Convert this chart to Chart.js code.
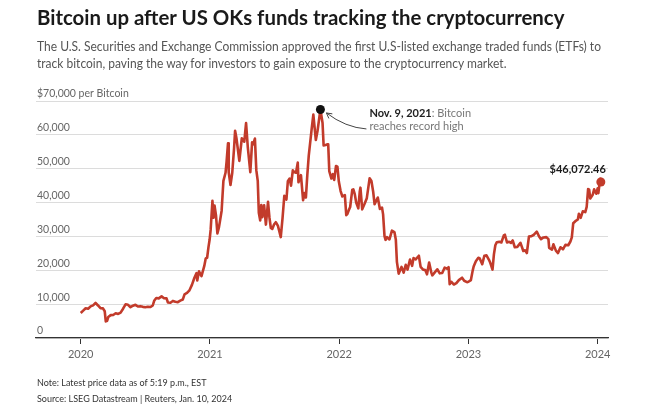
<!DOCTYPE html>
<html>
<head>
<meta charset="utf-8">
<script src="https://cdn.jsdelivr.net/npm/chart.js@4.4.1/dist/chart.umd.min.js"></script>
<style>
  body { margin: 0; width: 650px; height: 406px; background: #fff; overflow: hidden; position: relative; font-family: Lato, "Open Sans", sans-serif; }
  #chart { position: absolute; left: 0; top: 0; }
  .title { position: absolute; left: 37px; top: 5px; font-weight: 700; font-size: 20.4px; color: #1a1a1a; white-space: nowrap; }
  .subtitle { position: absolute; left: 37px; top: 38px; font-size: 13px; line-height: 17px; color: #555; white-space: nowrap; transform: scaleX(0.925); transform-origin: left top; }
  .notes { position: absolute; left: 37px; top: 374px; font-size: 10px; line-height: 16px; color: #333; white-space: nowrap; transform: scaleX(0.9); transform-origin: left top; }
</style>
</head>
<body>
<canvas id="chart" width="650" height="406"></canvas>
<div class="title">Bitcoin up after US OKs funds tracking the cryptocurrency</div>
<div class="subtitle">The U.S. Securities and Exchange Commission approved the first U.S-listed exchange traded funds (ETFs) to<br>track bitcoin, paving the way for investors to gain exposure to the cryptocurrency market.</div>
<div class="notes">Note: Latest price data as of 5:19 p.m., EST<br>Source: LSEG Datastream | Reuters, Jan. 10, 2024</div>
<script>
// bitcoin price, USD, [date, value]
const prices2020 = [
  ['2020-01-01', 7400], ['2020-01-08', 8100], ['2020-01-15', 8800], ['2020-01-22', 8650], ['2020-01-29', 9350],
  ['2020-02-05', 9650], ['2020-02-12', 10350], ['2020-02-19', 9600], ['2020-02-26', 8800], ['2020-03-04', 8750],
  ['2020-03-09', 7900], ['2020-03-12', 4900], ['2020-03-16', 5100], ['2020-03-19', 6200], ['2020-03-26', 6750],
  ['2020-04-02', 6800], ['2020-04-09', 7300], ['2020-04-16', 7100], ['2020-04-23', 7500], ['2020-04-30', 8650],
  ['2020-05-07', 9950], ['2020-05-14', 9800], ['2020-05-21', 9100], ['2020-05-28', 9550], ['2020-06-04', 9800],
  ['2020-06-11', 9300], ['2020-06-18', 9400], ['2020-06-25', 9200], ['2020-07-02', 9100], ['2020-07-09', 9250],
  ['2020-07-16', 9150], ['2020-07-23', 9600], ['2020-07-27', 11000], ['2020-08-02', 11800], ['2020-08-09', 11700],
  ['2020-08-17', 12300], ['2020-08-24', 11750], ['2020-08-31', 11700], ['2020-09-04', 10500], ['2020-09-11', 10400],
  ['2020-09-18', 10950], ['2020-09-25', 10700], ['2020-10-02', 10600], ['2020-10-09', 11050], ['2020-10-16', 11350],
  ['2020-10-21', 12900], ['2020-10-28', 13300], ['2020-11-04', 14100], ['2020-11-11', 15700], ['2020-11-18', 17800],
  ['2020-11-24', 19150], ['2020-11-26', 17000], ['2020-12-01', 19700], ['2020-12-08', 18300], ['2020-12-16', 21300],
  ['2020-12-20', 23500], ['2020-12-24', 23700], ['2020-12-28', 27000], ['2020-12-31', 29000]
];
const prices2021 = [
  ['2021-01-03', 32000], ['2021-01-08', 40500], ['2021-01-11', 35500], ['2021-01-14', 39100], ['2021-01-18', 36300],
  ['2021-01-22', 30900], ['2021-01-26', 32500], ['2021-01-29', 34300], ['2021-02-03', 37600], ['2021-02-08', 46400],
  ['2021-02-14', 48800], ['2021-02-17', 52100], ['2021-02-21', 57500], ['2021-02-23', 48900], ['2021-02-28', 45200],
  ['2021-03-05', 48800], ['2021-03-10', 55900], ['2021-03-13', 61200], ['2021-03-17', 58900], ['2021-03-25', 52300],
  ['2021-04-01', 59000], ['2021-04-08', 58000], ['2021-04-13', 63500], ['2021-04-18', 56200], ['2021-04-25', 49000],
  ['2021-04-30', 57800], ['2021-05-03', 57200], ['2021-05-08', 58900], ['2021-05-12', 49500], ['2021-05-16', 46400],
  ['2021-05-19', 37000], ['2021-05-23', 34700], ['2021-05-26', 39300], ['2021-05-29', 35700], ['2021-06-03', 39200],
  ['2021-06-08', 33500], ['2021-06-14', 40200], ['2021-06-18', 35600], ['2021-06-22', 32500], ['2021-06-26', 32200],
  ['2021-07-01', 33500], ['2021-07-06', 34200], ['2021-07-12', 33100], ['2021-07-16', 31500], ['2021-07-20', 29800],
  ['2021-07-25', 35400], ['2021-07-30', 42000], ['2021-08-05', 40900], ['2021-08-09', 46300], ['2021-08-14', 47100],
  ['2021-08-18', 45000], ['2021-08-23', 49500], ['2021-08-27', 49000], ['2021-09-01', 48800], ['2021-09-06', 51800],
  ['2021-09-08', 46000], ['2021-09-15', 48100], ['2021-09-21', 40700], ['2021-09-25', 42800], ['2021-09-29', 41500],
  ['2021-10-03', 48200], ['2021-10-07', 53800], ['2021-10-15', 61500], ['2021-10-20', 66000], ['2021-10-27', 58500],
  ['2021-11-01', 61300], ['2021-11-09', 67500], ['2021-11-15', 63500], ['2021-11-18', 56900], ['2021-11-24', 57000],
  ['2021-11-28', 57200], ['2021-12-01', 57200], ['2021-12-04', 49300], ['2021-12-10', 47100], ['2021-12-14', 48400],
  ['2021-12-18', 46700], ['2021-12-23', 50800], ['2021-12-27', 50600], ['2021-12-31', 46200]
];
const prices2022 = [
  ['2022-01-05', 43400], ['2022-01-10', 41800], ['2022-01-17', 42200], ['2022-01-21', 36300], ['2022-01-24', 36600],
  ['2022-01-28', 37700], ['2022-02-01', 38700], ['2022-02-07', 43800], ['2022-02-10', 43900], ['2022-02-14', 42500],
  ['2022-02-18', 40000], ['2022-02-24', 38300], ['2022-02-28', 43200], ['2022-03-02', 44400], ['2022-03-07', 38000],
  ['2022-03-14', 39700], ['2022-03-20', 41300], ['2022-03-28', 47200], ['2022-04-02', 46400], ['2022-04-07', 43200],
  ['2022-04-11', 39500], ['2022-04-20', 41500], ['2022-04-26', 38100], ['2022-05-02', 38500], ['2022-05-05', 36500],
  ['2022-05-09', 30100], ['2022-05-12', 29000], ['2022-05-16', 29800], ['2022-05-23', 29100], ['2022-05-30', 31700],
  ['2022-06-06', 31300], ['2022-06-10', 29000], ['2022-06-13', 22500], ['2022-06-18', 19000], ['2022-06-22', 20000],
  ['2022-06-26', 21000], ['2022-07-02', 19300], ['2022-07-08', 21600], ['2022-07-13', 20200], ['2022-07-20', 23200],
  ['2022-07-26', 21300], ['2022-07-30', 23600], ['2022-08-05', 23200], ['2022-08-14', 24300], ['2022-08-19', 21000],
  ['2022-08-26', 20200], ['2022-09-01', 20100], ['2022-09-06', 18800], ['2022-09-12', 22300], ['2022-09-18', 19400],
  ['2022-09-21', 18500], ['2022-09-28', 19400], ['2022-10-05', 20300], ['2022-10-12', 19100], ['2022-10-19', 19200],
  ['2022-10-26', 20800], ['2022-11-01', 20500], ['2022-11-06', 20900], ['2022-11-09', 15900], ['2022-11-14', 16600],
  ['2022-11-21', 15800], ['2022-11-28', 16200], ['2022-12-05', 17100], ['2022-12-14', 17800], ['2022-12-20', 16900],
  ['2022-12-28', 16500]
];
const prices2023 = [
  ['2023-01-01', 16600], ['2023-01-08', 17100], ['2023-01-13', 19900], ['2023-01-16', 21200], ['2023-01-22', 22700],
  ['2023-01-29', 23700], ['2023-02-02', 23500], ['2023-02-09', 21800], ['2023-02-15', 24300], ['2023-02-21', 24400],
  ['2023-02-28', 23100], ['2023-03-03', 22400], ['2023-03-10', 20200], ['2023-03-14', 24700], ['2023-03-18', 27400],
  ['2023-03-22', 28300], ['2023-03-29', 28400], ['2023-04-04', 28200], ['2023-04-11', 30300], ['2023-04-14', 30500],
  ['2023-04-20', 28200], ['2023-04-26', 28400], ['2023-05-01', 28100], ['2023-05-06', 28800], ['2023-05-12', 26800],
  ['2023-05-19', 26900], ['2023-05-28', 28100], ['2023-06-05', 25700], ['2023-06-10', 25900], ['2023-06-15', 25100],
  ['2023-06-21', 30000], ['2023-06-28', 30100], ['2023-07-05', 30500], ['2023-07-13', 31400], ['2023-07-20', 29900],
  ['2023-07-25', 29200], ['2023-08-01', 29700], ['2023-08-09', 29800], ['2023-08-15', 29200], ['2023-08-17', 26600],
  ['2023-08-25', 26100], ['2023-08-29', 27700], ['2023-09-05', 25800], ['2023-09-11', 25100], ['2023-09-18', 26800],
  ['2023-09-25', 26200], ['2023-10-02', 27500], ['2023-10-10', 27400], ['2023-10-16', 28500], ['2023-10-20', 29700],
  ['2023-10-24', 33900], ['2023-10-30', 34500], ['2023-11-06', 35000], ['2023-11-09', 36700], ['2023-11-14', 35500],
  ['2023-11-20', 37400], ['2023-11-27', 37200], ['2023-12-01', 38700], ['2023-12-05', 44000], ['2023-12-08', 43800],
  ['2023-12-11', 41200], ['2023-12-18', 42300], ['2023-12-22', 43900], ['2023-12-28', 42600],
  ['2024-01-01', 44200], ['2024-01-03', 42800], ['2024-01-08', 47000], ['2024-01-10', 46072.46]
];

const yearTicks = [2020, 2021, 2022, 2023, 2024];
const yTicks = [0, 10000, 20000, 30000, 40000, 50000, 60000, 70000];
const yTopLabel = '$70,000 per Bitcoin';
const peakLabelBold = 'Nov. 9, 2021';
const peakLabelRest = ': Bitcoin';
const peakLabelLine2 = 'reaches record high';
const lastLabel = '$46,072.46';

const red = '#c23b2b';

// date string -> fractional year, so a plain linear axis can be used
function toYear(s) {
  const d = new Date(s + 'T00:00:00Z');
  const y = d.getUTCFullYear();
  const start = Date.UTC(y, 0, 1), end = Date.UTC(y + 1, 0, 1);
  return y + (d - start) / (end - start);
}

const points = [...prices2020, ...prices2021, ...prices2022, ...prices2023]
  .map(([d, v]) => ({ x: toYear(d), y: v }));
const lastIdx = points.length - 1;

const annotate = {
  id: 'annotate',
  afterDatasetsDraw(chart) {
    const { ctx, scales: { x, y } } = chart;
    const pts = chart.data.datasets[0].data;
    const hi = pts.reduce((a, b) => (b.y > a.y ? b : a));
    const hx = x.getPixelForValue(hi.x), hy = y.getPixelForValue(hi.y);
    ctx.save();
    ctx.fillStyle = '#111';
    ctx.beginPath();
    ctx.arc(hx, hy, 4.5, 0, Math.PI * 2);
    ctx.fill();

    // curved arrow from the text to the dot
    const sx = hx + 46, sy = hy + 19.5, cx = hx + 25, cy = hy + 18, ex = hx + 6, ey = hy + 3.5;
    ctx.strokeStyle = '#444';
    ctx.lineWidth = 1;
    ctx.beginPath();
    ctx.moveTo(sx, sy);
    ctx.quadraticCurveTo(cx, cy, ex, ey);
    ctx.stroke();
    const ang = Math.atan2(ey - cy, ex - cx);
    ctx.beginPath();
    ctx.moveTo(ex - 6 * Math.cos(ang - 0.5), ey - 6 * Math.sin(ang - 0.5));
    ctx.lineTo(ex, ey);
    ctx.lineTo(ex - 6 * Math.cos(ang + 0.5), ey - 6 * Math.sin(ang + 0.5));
    ctx.stroke();

    ctx.textBaseline = 'middle';
    ctx.textAlign = 'left';
    ctx.font = 'bold 11px Lato';
    ctx.fillStyle = '#222';
    ctx.fillText(peakLabelBold, hx + 49, hy + 3.5);
    const w = ctx.measureText(peakLabelBold).width;
    ctx.font = '11px Lato';
    ctx.fillStyle = '#777';
    ctx.fillText(peakLabelRest, hx + 49 + w, hy + 3.5);
    ctx.fillText(peakLabelLine2, hx + 49, hy + 16.5);

    // last value label
    const last = pts[pts.length - 1];
    const lx = x.getPixelForValue(last.x), ly = y.getPixelForValue(last.y);
    ctx.font = 'bold 11px Lato';
    ctx.fillStyle = '#1a1a1a';
    ctx.textAlign = 'right';
    ctx.fillText(lastLabel, lx + 5, ly - 13);
    ctx.restore();
  }
};

new Chart(document.getElementById('chart'), {
  type: 'line',
  data: {
    datasets: [{
      data: points,
      borderColor: red,
      backgroundColor: red,
      borderWidth: 2.6,
      borderJoinStyle: 'round',
      tension: 0,
      pointRadius: c => (c.dataIndex === lastIdx ? 4.5 : 0),
      pointHoverRadius: 0,
      pointBorderWidth: 0
    }]
  },
  options: {
    responsive: false,
    animation: false,
    events: [],
    layout: { padding: { top: 101, left: 36, right: 42, bottom: 48 } },
    plugins: { legend: { display: false }, tooltip: { enabled: false } },
    scales: {
      x: {
        type: 'linear',
        min: 2019.654,
        max: 2024.08,
        afterBuildTicks: s => { s.ticks = yearTicks.map(v => ({ value: v })); },
        afterFit: s => { s.height = 20; },
        grid: { drawOnChartArea: false, drawTicks: true, tickLength: 6, color: '#333' },
        border: { display: true, color: '#333', width: 1.2 },
        ticks: { color: '#666', font: { family: 'Lato', size: 11 }, padding: 4, callback: v => String(v) }
      },
      y: {
        min: 0,
        max: 70000,
        afterBuildTicks: s => { s.ticks = yTicks.map(v => ({ value: v })); },
        afterFit: s => { s.width = 0; },
        grid: { color: '#dcdcdc', drawTicks: false, lineWidth: 1 },
        border: { display: false },
        ticks: {
          mirror: true,
          padding: 1,
          labelOffset: -7,
          color: '#666',
          font: { family: 'Lato', size: 10.5 },
          callback: v => (v === 70000 ? yTopLabel : v.toLocaleString('en-US'))
        }
      }
    }
  },
  plugins: [annotate]
});
</script>
</body>
</html>
